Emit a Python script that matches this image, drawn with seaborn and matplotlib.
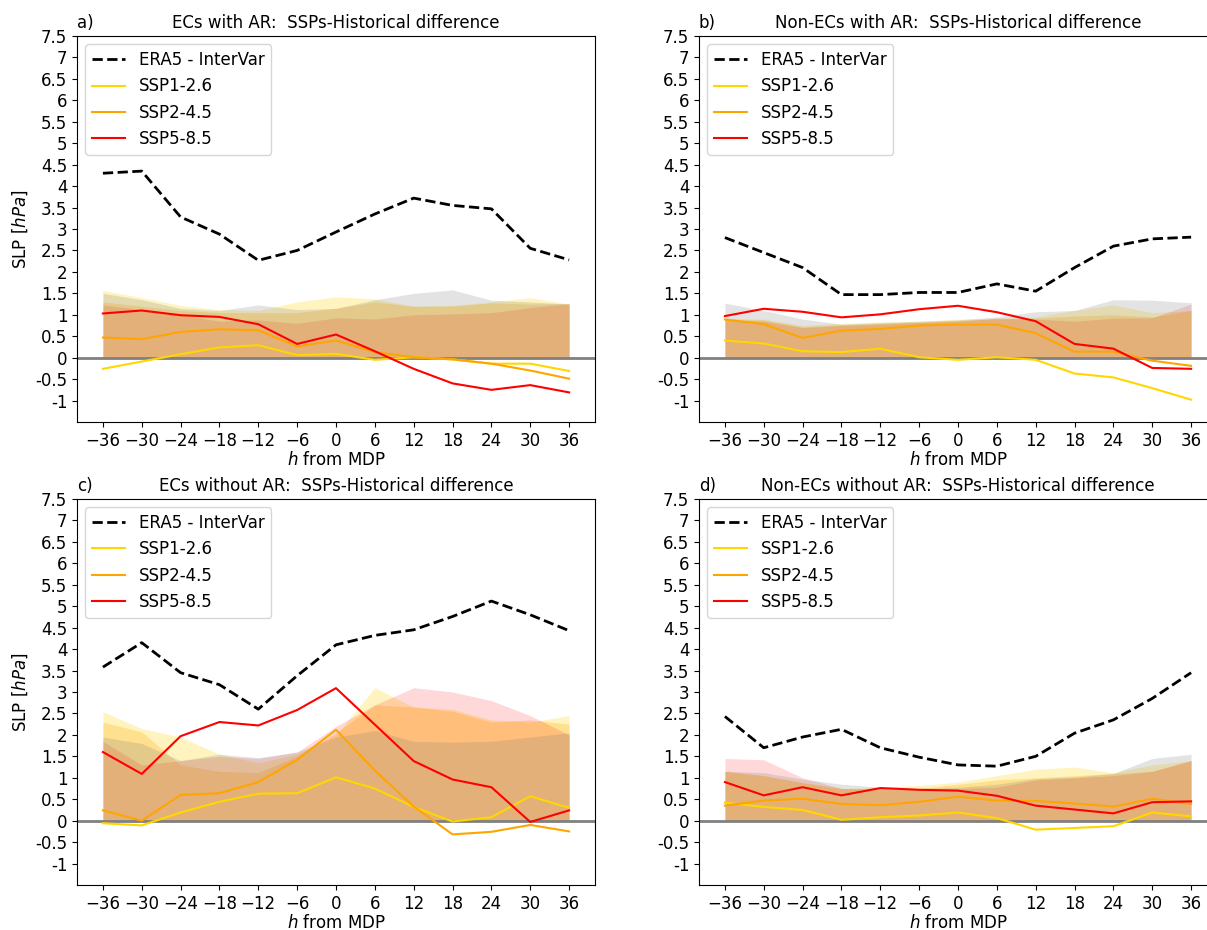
import numpy as np
import matplotlib
matplotlib.use("Agg")
import matplotlib.pyplot as plt
import seaborn as sns

# hours relative to the moment of deepest pressure (MDP)
hours = [-36, -30, -24, -18, -12, -6, 0, 6, 12, 18, 24, 30, 36]

panel_letters = ["a)", "b)", "c)", "d)"]
panel_titles = [
    "ECs with AR:  SSPs-Historical difference",
    "Non-ECs with AR:  SSPs-Historical difference",
    "ECs without AR:  SSPs-Historical difference",
    "Non-ECs without AR:  SSPs-Historical difference",
]

series_names = ["ERA5 - InterVar", "SSP1-2.6", "SSP2-4.5", "SSP5-8.5"]
series_colors = ["black", "gold", "orange", "red"]

# ERA5 interannual variability (hPa)
era5_a = [4.30, 4.35, 3.28, 2.88, 2.27, 2.50, 2.93, 3.35, 3.72, 3.55, 3.47, 2.55, 2.28]
era5_b = [2.80, 2.45, 2.10, 1.47, 1.47, 1.52, 1.52, 1.72, 1.55, 2.10, 2.60, 2.77, 2.81]
era5_c = [3.58, 4.15, 3.45, 3.17, 2.60, 3.38, 4.10, 4.32, 4.45, 4.76, 5.12, 4.80, 4.43]
era5_d = [2.43, 1.70, 1.95, 2.13, 1.70, 1.48, 1.30, 1.27, 1.50, 2.04, 2.35, 2.85, 3.45]

# SSP minus historical differences (hPa)
ssp126_a = [-0.26, -0.09, 0.08, 0.24, 0.29, 0.06, 0.09, -0.05, 0.01, -0.04, -0.14, -0.14, -0.31]
ssp245_a = [0.47, 0.43, 0.60, 0.66, 0.64, 0.26, 0.40, 0.13, 0.01, -0.04, -0.14, -0.30, -0.49]
ssp585_a = [1.03, 1.10, 0.99, 0.95, 0.78, 0.32, 0.54, 0.15, -0.26, -0.60, -0.75, -0.64, -0.81]

ssp126_b = [0.40, 0.33, 0.15, 0.13, 0.21, 0.01, -0.05, 0.01, -0.05, -0.37, -0.46, -0.71, -0.98]
ssp245_b = [0.89, 0.78, 0.46, 0.63, 0.67, 0.75, 0.77, 0.77, 0.57, 0.14, 0.14, -0.07, -0.19]
ssp585_b = [0.97, 1.14, 1.07, 0.94, 1.01, 1.13, 1.21, 1.06, 0.85, 0.32, 0.21, -0.24, -0.26]

ssp126_c = [-0.06, -0.11, 0.19, 0.44, 0.63, 0.64, 1.01, 0.75, 0.32, -0.02, 0.08, 0.57, 0.30]
ssp245_c = [0.24, 0.00, 0.60, 0.64, 0.90, 1.42, 2.12, 1.17, 0.33, -0.32, -0.26, -0.10, -0.25]
ssp585_c = [1.60, 1.09, 1.97, 2.30, 2.22, 2.58, 3.09, 2.24, 1.39, 0.96, 0.78, -0.03, 0.24]

ssp126_d = [0.42, 0.32, 0.25, 0.02, 0.08, 0.12, 0.19, 0.06, -0.21, -0.17, -0.13, 0.19, 0.10]
ssp245_d = [0.35, 0.47, 0.51, 0.39, 0.36, 0.44, 0.56, 0.47, 0.46, 0.40, 0.33, 0.51, 0.39]
ssp585_d = [0.90, 0.59, 0.78, 0.59, 0.76, 0.72, 0.70, 0.58, 0.35, 0.26, 0.17, 0.43, 0.45]

# Model variability envelopes (upper bound, filled from zero)
var126_a = [1.57, 1.40, 1.22, 1.12, 1.10, 1.30, 1.42, 1.37, 1.20, 1.22, 1.30, 1.40, 1.25]
var245_a = [1.30, 1.20, 1.10, 1.05, 1.05, 1.05, 1.15, 1.30, 1.20, 1.20, 1.28, 1.25, 1.26]
var585_a = [1.23, 1.12, 1.00, 0.85, 0.88, 0.80, 0.93, 0.90, 1.00, 1.02, 1.05, 1.17, 1.26]
hist_var_a = [1.50, 1.35, 1.15, 1.10, 1.23, 1.12, 1.15, 1.35, 1.50, 1.58, 1.34, 1.30, 1.25]

var126_b = [0.92, 0.90, 0.75, 0.80, 0.83, 0.85, 0.90, 0.92, 0.95, 1.10, 1.23, 1.05, 1.10]
var245_b = [0.90, 0.88, 0.72, 0.77, 0.80, 0.83, 0.87, 0.90, 0.92, 0.97, 1.00, 0.95, 1.10]
var585_b = [0.88, 0.85, 0.70, 0.75, 0.78, 0.82, 0.85, 0.92, 0.90, 0.85, 0.92, 0.93, 1.25]
hist_var_b = [1.27, 1.10, 0.90, 0.78, 0.82, 0.85, 0.88, 0.95, 1.07, 1.10, 1.35, 1.34, 1.28]

var126_c = [2.54, 2.15, 1.95, 1.55, 1.35, 1.55, 2.00, 3.10, 2.65, 2.60, 2.35, 2.30, 2.45]
var245_c = [2.30, 2.07, 1.30, 1.15, 1.12, 1.50, 2.05, 2.70, 2.65, 2.55, 2.30, 2.35, 2.25]
var585_c = [1.85, 1.30, 1.40, 1.50, 1.45, 1.60, 2.20, 2.70, 3.10, 3.00, 2.80, 2.45, 2.00]
hist_var_c = [1.95, 1.80, 1.40, 1.55, 1.47, 1.60, 1.95, 2.10, 1.85, 1.83, 1.85, 1.95, 2.05]

var126_d = [1.15, 1.05, 0.90, 0.75, 0.78, 0.82, 0.90, 1.05, 1.20, 1.25, 1.12, 1.30, 1.40]
var245_d = [1.15, 1.05, 0.88, 0.75, 0.72, 0.75, 0.85, 0.95, 1.00, 1.05, 1.10, 1.15, 1.40]
var585_d = [1.45, 1.42, 1.00, 0.75, 0.75, 0.72, 0.75, 0.78, 0.95, 1.00, 1.05, 1.15, 1.40]
hist_var_d = [1.15, 1.12, 0.97, 0.85, 0.78, 0.75, 0.78, 0.85, 0.98, 1.02, 1.10, 1.45, 1.55]

panels = [
    (era5_a, [ssp126_a, ssp245_a, ssp585_a], [var126_a, var245_a, var585_a, hist_var_a]),
    (era5_b, [ssp126_b, ssp245_b, ssp585_b], [var126_b, var245_b, var585_b, hist_var_b]),
    (era5_c, [ssp126_c, ssp245_c, ssp585_c], [var126_c, var245_c, var585_c, hist_var_c]),
    (era5_d, [ssp126_d, ssp245_d, ssp585_d], [var126_d, var245_d, var585_d, hist_var_d]),
]

band_colors = ["gold", "orange", "red", "grey"]
band_alphas = [0.25, 0.25, 0.15, 0.22]

ytick_vals = np.arange(-1.0, 7.51, 0.5)
ytick_text = ["%g" % v for v in ytick_vals]

fig = plt.figure(figsize=(12.07, 9.30), dpi=100)
W, H = 1207.0, 930.0
ax_w, ax_h = 518 / W, 386 / H
positions = [
    (77 / W, 1 - 422 / H),
    (699 / W, 1 - 422 / H),
    (77 / W, 1 - 885 / H),
    (699 / W, 1 - 885 / H),
]

for i, (era5, ssps, bands) in enumerate(panels):
    ax = fig.add_axes([positions[i][0], positions[i][1], ax_w, ax_h])

    for band, col, alp in zip(bands, band_colors, band_alphas):
        ax.fill_between(hours, 0, band, color=col, alpha=alp, linewidth=0)

    ax.axhline(0, color="grey", lw=2, zorder=1.5)

    sns.lineplot(x=hours, y=era5, ax=ax, color="black", linestyle="--",
                 linewidth=2, label=series_names[0])
    for vals, name, col in zip(ssps, series_names[1:], series_colors[1:]):
        sns.lineplot(x=hours, y=vals, ax=ax, color=col, linewidth=1.5, label=name)

    ax.set_xlim(-40, 40)
    ax.set_ylim(-1.5, 7.5)
    ax.set_xticks(hours)
    ax.set_yticks(ytick_vals)
    ax.set_yticklabels(ytick_text)
    ax.tick_params(labelsize=12)
    ax.set_xlabel("$h$ from MDP", fontsize=12, labelpad=1)
    if i % 2 == 0:
        ax.set_ylabel("SLP [$hPa$]", fontsize=12)
    else:
        ax.set_ylabel("")
    ax.set_title(panel_letters[i], loc="left", fontsize=12)
    ax.set_title(panel_titles[i], fontsize=12)
    ax.legend(loc="upper left", fontsize=12)

fig.savefig("out.png", dpi=100)
